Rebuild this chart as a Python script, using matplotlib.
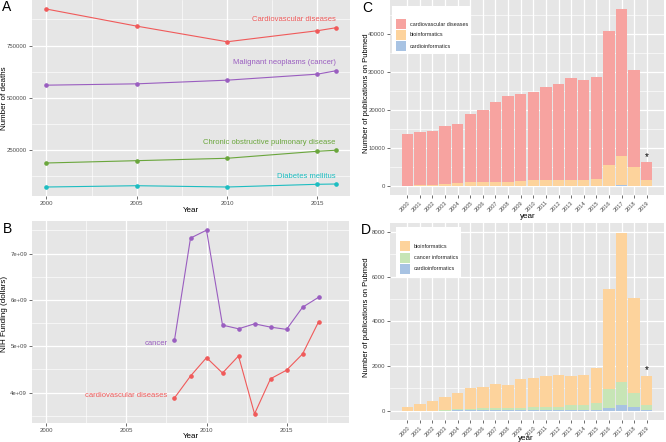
import matplotlib
matplotlib.use('Agg')
import matplotlib.pyplot as plt
import numpy as np
from matplotlib.patches import Rectangle
from matplotlib.ticker import FixedLocator

plt.rcParams['font.family'] = ['Liberation Sans', 'DejaVu Sans']

W, H, DPI = 666, 442, 100

# ---------------- data ----------------
# Panel A: number of deaths
death_years = [2000, 2005, 2010, 2015, 2016]
deaths_cvd = [925000, 843000, 768000, 821000, 835000]
deaths_cancer = [559600, 566000, 583600, 612500, 628400]
deaths_copd = [186000, 197100, 208600, 242300, 247100]
deaths_diabetes = [70700, 76900, 70700, 83700, 85100]
death_labels = ["Cardiovascular diseases", "Malignant neoplasms (cancer)",
                "Chronic obstructive pulmonary disease", "Diabetes mellitus"]

# Panel B: NIH funding
fund_years = [2008, 2009, 2010, 2011, 2012, 2013, 2014, 2015, 2016, 2017]
fund_cancer = [5.135e9, 7.335e9, 7.506e9, 5.457e9, 5.378e9, 5.485e9, 5.414e9, 5.365e9, 5.843e9, 6.058e9]
fund_cvd = [3.886e9, 4.358e9, 4.755e9, 4.423e9, 4.792e9, 3.543e9, 4.300e9, 4.485e9, 4.835e9, 5.528e9]
fund_labels = ["cancer", "cardiovascular diseases"]
fund_ticks = [4e9, 5e9, 6e9, 7e9]
fund_ticklabels = ["4e+09", "5e+09", "6e+09", "7e+09"]

# Panels C and D: publications
pub_years = ["2000", "2001", "2002", "2003", "2004", "2005", "2006", "2007", "2008", "2009",
             "2010", "2011", "2012", "2013", "2014", "2015", "2016", "2017", "2018", "2019"]
pubs_cvd = [13580, 14210, 14550, 15870, 16390, 19030, 20080, 22180, 23680, 24290,
            24820, 26050, 26840, 28420, 27970, 28680, 40600, 46390, 30340, 6320]
pubs_bio = [150, 290, 410, 590, 770, 1010, 1040, 1175, 1130, 1400,
            1480, 1550, 1610, 1560, 1580, 1920, 5440, 7970, 5060, 1540]
pubs_cancer_inf = [0, 0, 5, 30, 60, 80, 100, 100, 110, 120,
                   150, 170, 180, 240, 240, 330, 990, 1270, 790, 260]
pubs_cardio_inf = [0, 0, 2, 5, 8, 10, 12, 15, 15, 18,
                   20, 40, 40, 45, 45, 50, 130, 240, 140, 40]

# ---------------- style ----------------
BG = '#E6E6E6'
RED = '#F05A5A'
PURPLE = '#9A5EC0'
GREEN = '#6AA63C'
TEAL = '#1DBDC1'
C_CVD = '#F7A3A0'
C_BIO = '#FDD39C'
C_CAN = '#C7E5B6'
C_CAR = '#A8C3E3'
TICKC = '#4D4D4D'

fig = plt.figure(figsize=(W / DPI, H / DPI), dpi=DPI)


def add_ax(l, t, r, b):
    return fig.add_axes([l / W, 1 - b / H, (r - l) / W, (b - t) / H])


def style(ax):
    ax.set_facecolor(BG)
    for s in ax.spines.values():
        s.set_visible(False)
    ax.grid(which='major', color='white', lw=0.9)
    ax.grid(which='minor', color='white', lw=0.45)
    ax.set_axisbelow(True)
    ax.tick_params(which='major', length=2, width=0.5, color='#333333',
                   labelsize=4.3, labelcolor=TICKC, pad=1.5)
    ax.tick_params(which='minor', length=0)


def ftext(x, y, s, **kw):
    fig.text(x / W, 1 - y / H, s, **kw)


def frect(x0, y0, x1, y1, color, ec='none'):
    fig.add_artist(Rectangle((x0 / W, 1 - y1 / H), (x1 - x0) / W, (y1 - y0) / H,
                             transform=fig.transFigure, facecolor=color, edgecolor=ec, lw=0))


# ---------------- Panel A ----------------
axA = add_ax(32, 0, 350, 196)
style(axA)
for vals, c, lab in zip([deaths_cvd, deaths_cancer, deaths_copd, deaths_diabetes],
                        [RED, PURPLE, GREEN, TEAL], death_labels):
    axA.plot(death_years, vals, '-o', color=c, lw=0.8, ms=2.3)
    axA.text(death_years[-1], vals[-1] + 38000, lab, ha='right', va='center',
             fontsize=5.5, color=c)
axA.set_xlim(1999.2, 2016.8)
axA.set_ylim(27500, 968500)
axA.xaxis.set_major_locator(FixedLocator([2000, 2005, 2010, 2015]))
axA.xaxis.set_minor_locator(FixedLocator([2002.5, 2007.5, 2012.5]))
axA.yaxis.set_major_locator(FixedLocator([250000, 500000, 750000]))
axA.yaxis.set_minor_locator(FixedLocator([125000, 375000, 625000, 875000]))
axA.set_xticklabels(['2000', '2005', '2010', '2015'])
axA.set_yticklabels(['250000', '500000', '750000'])
ftext(191, 210, 'Year', ha='center', va='center', fontsize=5.8)
ftext(5, 98, 'Number of deaths', ha='center', va='center', rotation=90, fontsize=5.8)
ftext(2, 7, 'A', ha='left', va='center', fontsize=10)

# ---------------- Panel B ----------------
axB = add_ax(32, 221, 349, 423)
style(axB)
axB.plot(fund_years, fund_cancer, '-o', color=PURPLE, lw=0.8, ms=2.3)
axB.plot(fund_years, fund_cvd, '-o', color=RED, lw=0.8, ms=2.3)
axB.text(2007.55, fund_cancer[0] - 0.08e9, fund_labels[0], ha='right', va='center',
         fontsize=5.5, color=PURPLE)
axB.text(2007.55, fund_cvd[0] + 0.06e9, fund_labels[1], ha='right', va='center',
         fontsize=5.5, color=RED)
axB.set_xlim(1999.1, 2018.9)
axB.set_ylim(3.345e9, 7.704e9)
axB.xaxis.set_major_locator(FixedLocator([2000, 2005, 2010, 2015]))
axB.xaxis.set_minor_locator(FixedLocator([2002.5, 2007.5, 2012.5, 2017.5]))
axB.set_xticklabels(['2000', '2005', '2010', '2015'])
axB.yaxis.set_major_locator(FixedLocator(fund_ticks))
axB.yaxis.set_minor_locator(FixedLocator([3.5e9, 4.5e9, 5.5e9, 6.5e9, 7.5e9]))
axB.set_yticklabels(fund_ticklabels)
ftext(191, 437, 'Year', ha='center', va='center', fontsize=5.8)
ftext(5, 314, 'NIH Funding (dollars)', ha='center', va='center', rotation=90, fontsize=5.8)
ftext(3, 229, 'B', ha='left', va='center', fontsize=10)

x = np.arange(len(pub_years))

# ---------------- Panel C ----------------
axC = add_ax(390, 0, 664, 195)
style(axC)
axC.bar(x, pubs_cvd, width=0.9, color=C_CVD)
axC.bar(x, pubs_bio, width=0.9, color=C_BIO)
axC.bar(x, pubs_cardio_inf, width=0.9, color=C_CAR)
axC.text(x[-1], pubs_cvd[-1] + 1400, '*', ha='center', va='center', fontsize=7)
axC.set_xlim(-1.37, len(x) - 1 + 1.37)
axC.set_ylim(-2325, 48825)
axC.set_xticks(x)
axC.set_xticklabels(pub_years, rotation=45, ha='right', va='top', rotation_mode='anchor',
                    fontsize=4.1)
axC.yaxis.set_major_locator(FixedLocator([0, 10000, 20000, 30000, 40000]))
axC.yaxis.set_minor_locator(FixedLocator([5000, 15000, 25000, 35000, 45000]))
axC.set_yticklabels(['0', '10000', '20000', '30000', '40000'])
ftext(528, 216, 'year', ha='center', va='center', fontsize=5.8)
ftext(366, 93, 'Number of publications on Pubmed', ha='center', va='center', rotation=90,
      fontsize=5.5)
ftext(362, 8, 'C', ha='left', va='center', fontsize=10)

# legend C
frect(392, 6, 471, 54, 'white')
for yy, col, lab in zip([24, 35, 46], [C_CVD, C_BIO, C_CAR],
                        ['cardiovascular diseases', 'bioinformatics', 'cardioinformatics']):
    frect(396, yy - 5, 406, yy + 5, col)
    ftext(410, yy, lab, ha='left', va='center', fontsize=3.9, color='#222222')

# ---------------- Panel D ----------------
axD = add_ax(390, 223, 664, 420)
style(axD)
axD.bar(x, pubs_bio, width=0.9, color=C_BIO)
axD.bar(x, pubs_cancer_inf, width=0.9, color=C_CAN)
axD.bar(x, pubs_cardio_inf, width=0.9, color=C_CAR)
axD.text(x[-1], pubs_bio[-1] + 280, '*', ha='center', va='center', fontsize=7)
axD.set_xlim(-1.37, len(x) - 1 + 1.37)
axD.set_ylim(-420, 8400)
axD.set_xticks(x)
axD.set_xticklabels(pub_years, rotation=45, ha='right', va='top', rotation_mode='anchor',
                    fontsize=4.1)
axD.yaxis.set_major_locator(FixedLocator([0, 2000, 4000, 6000, 8000]))
axD.yaxis.set_minor_locator(FixedLocator([1000, 3000, 5000, 7000]))
axD.set_yticklabels(['0', '2000', '4000', '6000', '8000'])
ftext(526, 438, 'year', ha='center', va='center', fontsize=5.8)
ftext(366, 317, 'Number of publications on Pubmed', ha='center', va='center', rotation=90,
      fontsize=5.5)
ftext(361, 230, 'D', ha='left', va='center', fontsize=10)

# legend D
frect(396, 227, 461, 277, 'white')
for yy, col, lab in zip([246, 257.5, 269], [C_BIO, C_CAN, C_CAR],
                        ['bioinformatics', 'cancer informatics', 'cardioinformatics']):
    frect(400, yy - 5, 410, yy + 5, col)
    ftext(414, yy, lab, ha='left', va='center', fontsize=3.9, color='#222222')

fig.savefig('out.png', dpi=DPI)
